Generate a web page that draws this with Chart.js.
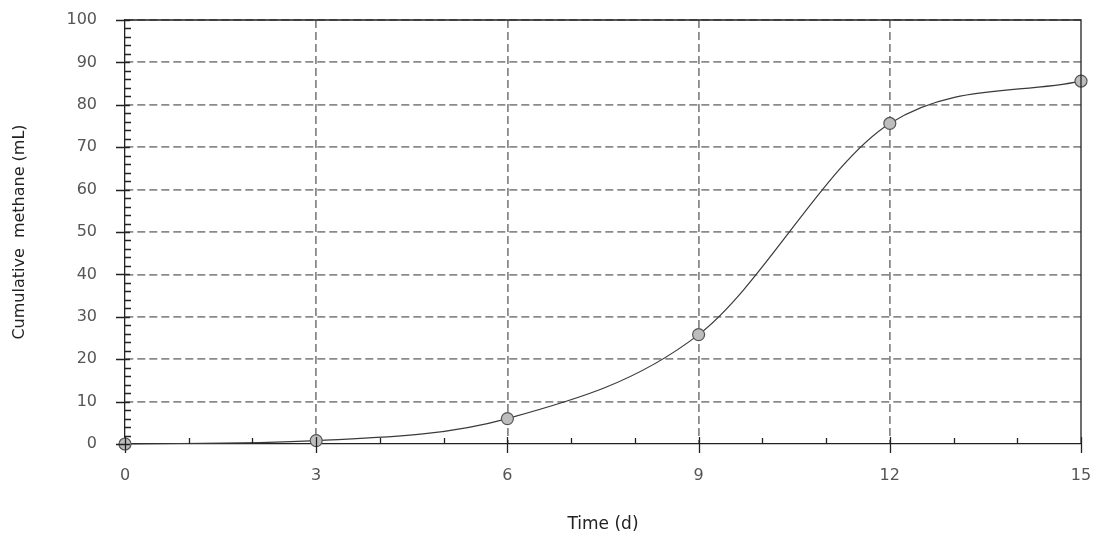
<!DOCTYPE html>
<html>
<head>
<meta charset="utf-8">
<script src="https://cdn.jsdelivr.net/npm/chart.js@4/dist/chart.umd.min.js"></script>
<style>
  html, body { margin: 0; padding: 0; background: #fff; }
  #wrap { width: 1100px; height: 543px; }
</style>
</head>
<body>
<div id="wrap"><canvas id="myChart" width="1100" height="543"></canvas></div>
<script>
/*               data                */
const days = [0, 3, 6, 9, 12, 15];
const methane = [0, 0.8, 6.0, 25.8, 75.6, 85.6];
const xTicks = [0, 3, 6, 9, 12, 15];
const yTicks = [0, 10, 20, 30, 40, 50, 60, 70, 80, 90, 100];

const FONT = '"DejaVu Sans", Verdana, sans-serif';

/*               axis ticks + frame (minor ticks inside, major crossing)                */
const frameTicks = {
    id: 'frameTicks',
    afterDatasetsDraw(chart) {
        const {ctx, chartArea: a, scales: {x, y}} = chart;
        ctx.save();
        ctx.strokeStyle = '#222';
        ctx.lineWidth = 1.3;
        ctx.beginPath();
        // top + right border
        ctx.moveTo(a.left, a.top);
        ctx.lineTo(a.right, a.top);
        ctx.lineTo(a.right, a.bottom);
        // y ticks: minor every 2, major every 10
        for (let v = 0; v <= 100; v += 2) {
            const py = Math.round(y.getPixelForValue(v)) + 0.5;
            if (v % 10 === 0) {
                ctx.moveTo(a.left - 9, py);
                ctx.lineTo(a.left + 5, py);
            } else {
                ctx.moveTo(a.left, py);
                ctx.lineTo(a.left + 6, py);
            }
        }
        // x ticks: minor every 1, major every 3
        for (let v = 0; v <= 15; v++) {
            const px = Math.round(x.getPixelForValue(v)) + 0.5;
            if (v % 3 === 0) {
                ctx.moveTo(px, a.bottom - 7);
                ctx.lineTo(px, a.bottom + 9);
            } else {
                ctx.moveTo(px, a.bottom);
                ctx.lineTo(px, a.bottom - 6);
            }
        }
        ctx.stroke();
        ctx.restore();
    }
};

let ctx = document.getElementById('myChart').getContext('2d');
let chart = new Chart(ctx, {
    type: 'line',
    data: {
        datasets: [{
            label: 'Cumulative methane',
            data: days.map((d, i) => ({x: d, y: methane[i]})),
            borderColor: '#3a3a3a',
            borderWidth: 1.2,
            cubicInterpolationMode: 'monotone',
            pointRadius: 6,
            pointBackgroundColor: '#bdbdbd',
            pointBorderColor: '#555',
            pointBorderWidth: 1.2,
            clip: false
        }]
    },
    options: {
        responsive: false,
        animation: false,
        layout: { padding: { left: 0, top: 20, right: 19, bottom: 0 } },
        plugins: { legend: { display: false }, tooltip: { enabled: false } },
        scales: {
            x: {
                type: 'linear',
                min: 0, max: 15,
                // fixed box, no label overflow padding so the plot area sits where the picture has it
                afterFit: s => { s.height = 99; s.paddingLeft = 0; s.paddingRight = 0; },
                afterBuildTicks: s => { s.ticks = xTicks.map(v => ({value: v})); },
                grid: {
                    color: c => (c.tick.value === 0 || c.tick.value === 15) ? 'rgba(0,0,0,0)' : '#8a8a8a',
                    lineWidth: 1.8,
                    drawTicks: false
                },
                border: { color: '#222', width: 1.3, dash: [8, 4] },
                ticks: { padding: 22, color: '#555', font: { family: FONT, size: 16 } },
                title: {
                    display: true, text: 'Time (d)', color: '#222',
                    font: { family: FONT, size: 17 },
                    padding: { top: 0, bottom: 8 }
                }
            },
            y: {
                min: 0, max: 100,
                afterFit: s => { s.width = 125; s.paddingTop = 0; s.paddingBottom = 0; },
                afterBuildTicks: s => { s.ticks = yTicks.map(v => ({value: v})); },
                grid: {
                    color: c => (c.tick.value === 0) ? 'rgba(0,0,0,0)' : '#8a8a8a',
                    lineWidth: 1.8,
                    drawTicks: false
                },
                border: { color: '#222', width: 1.3, dash: [8, 4] },
                ticks: { padding: 28, color: '#555', font: { family: FONT, size: 16 } },
                title: {
                    display: true, text: 'Cumulative  methane (mL)', color: '#222',
                    font: { family: FONT, size: 16 },
                    padding: { top: 10, bottom: 0 }
                }
            }
        }
    },
    plugins: [frameTicks]
});
</script>
</body>
</html>
